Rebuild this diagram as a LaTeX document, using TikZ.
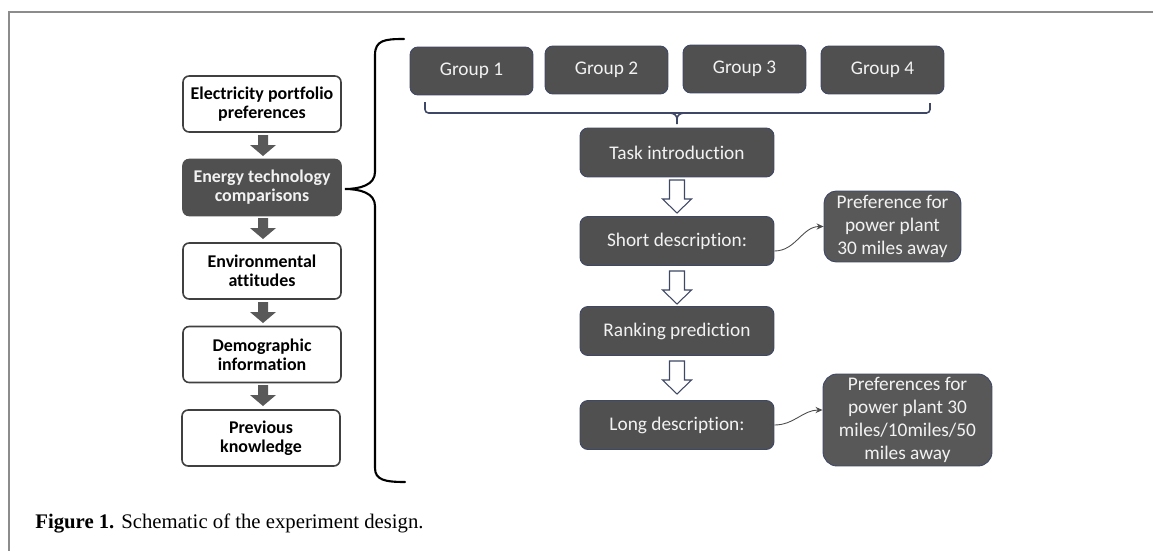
\documentclass[tikz,border=0pt]{standalone}
\usepackage{fontspec}
\setmainfont{Carlito}[Ligatures=NoCommon]
\newfontfamily\capfont{Liberation Serif}
\usetikzlibrary{arrows.meta}

\definecolor{boxgray}{HTML}{505050}
\definecolor{prefgray}{HTML}{585858}
\definecolor{edgeblue}{HTML}{3E4766}
\definecolor{txtlight}{HTML}{F2F2F2}
\definecolor{framegray}{HTML}{8C8C8C}

\tikzset{
  stage/.style={draw=black!75, line width=0.9pt, fill=white, rounded corners=3.5pt,
    minimum width=3.16cm, minimum height=1.12cm, align=center, inner sep=0,
    font=\fontsize{10.2}{10.8}\selectfont\bfseries},
  stagedark/.style={stage, fill=boxgray, draw=boxgray, text=txtlight},
  task/.style={draw=edgeblue, line width=0.5pt, fill=boxgray, rounded corners=4.5pt,
    text=txtlight, align=center, inner sep=0, font=\fontsize{11}{13.2}\selectfont},
  stepdown/.style={fill=black!65},
  hollowdown/.style={draw=edgeblue, fill=white, line width=0.6pt, line join=miter},
  link/.style={draw=black!70, line width=0.5pt, -{Stealth[length=4pt,width=3.5pt]}},
}

\begin{document}
\begin{tikzpicture}[x=0.02cm,y=-0.02cm]
\useasboundingbox (0,0) rectangle (1153,551);

% frame
\draw[framegray, line width=0.85pt] (9,551) -- (9,12) -- (1153,12);

% survey blocks
\node [stage] (portfolio) at (262,104) {Electricity portfolio\\preferences};
\node [stagedark] (techcomp) at (262,187.5) {Energy technology\\comparisons};
\node [stage] (attitudes) at (262,271) {Environmental\\attitudes};
\node [stage] (demo) at (262,354.5) {Demographic\\information};
\node [stage] (knowledge) at (261,438) {Previous\\knowledge};

\coordinate (s1) at (263,135);
\coordinate (s2) at (263,218);
\coordinate (s3) at (263,302);
\coordinate (s4) at (263,385);
\foreach \c in {s1,s2,s3,s4}
  \fill[stepdown] (\c) ++(-5,0) -- ++(10,0) -- ++(0,10) -- ++(8,0) -- ++(-13,11)
    -- ++(-13,-11) -- ++(8,0) -- cycle;

% brace
\draw[line width=1.2pt, line cap=round] (404,39) .. controls (385,39) and (375,40) .. (375,55)
  -- (375,172) .. controls (375,185) and (360,189) .. (345,189)
  .. controls (360,189) and (375,193) .. (375,206)
  -- (375,468) .. controls (375,480) and (385,482) .. (405,482);

% groups
\node [task, minimum width=2.46cm, minimum height=0.96cm] (grp1) at (471.5,71) {Group 1};
\node [task, minimum width=2.46cm, minimum height=0.96cm] (grp2) at (606.5,70) {Group 2};
\node [task, minimum width=2.46cm, minimum height=0.96cm] (grp3) at (744.5,69) {Group 3};
\node [task, minimum width=2.46cm, minimum height=0.96cm] (grp4) at (882.5,70) {Group 4};

\draw[edgeblue, line width=0.9pt, rounded corners=2pt] (425,102) -- (425,113) -- (930,113) -- (930,103);
\draw[edgeblue, line width=0.9pt] (670,113) to[out=0,in=90] (677,119) -- (677,124);
\draw[edgeblue, line width=0.9pt] (684,113) to[out=180,in=90] (677,119);

% task flow
\node [task, minimum width=3.88cm, minimum height=0.98cm] (intro) at (677,152.5) {Task introduction};
\node [task, minimum width=3.88cm, minimum height=0.98cm] (short) at (677,241) {Short description:};
\node [task, minimum width=3.88cm, minimum height=0.98cm] (rank) at (677,331) {Ranking prediction};
\node [task, minimum width=3.88cm, minimum height=0.98cm] (long) at (677,425) {Long description:};

\coordinate (h1) at (677,180);
\coordinate (h2) at (677,271);
\coordinate (h3) at (677,361);
\foreach \c in {h1,h2,h3}
  \draw[hollowdown] (\c) ++(-7.5,0) -- ++(15,0) -- ++(0,19) -- ++(7,0) -- ++(-14.5,14)
    -- ++(-14.5,-14) -- ++(7,0) -- cycle;

\node [task, fill=prefgray, rounded corners=7pt, minimum width=2.74cm, minimum height=1.42cm]
  (shortpref) at (892.5,226.5) {Preference for\\power plant\\30 miles away};
\node [task, fill=prefgray, rounded corners=8pt, minimum width=3.38cm, minimum height=1.84cm]
  (longpref) at (907.5,420) {Preferences for\\power plant 30\\miles/10miles/50\\miles away};

\draw[link] ([yshift=-0.2cm]short.east) to[out=0,in=180] (shortpref.west);
\draw[link] (long.east) to[out=0,in=180] ([yshift=0.2cm]longpref.west);

% caption
\node [anchor=base west, inner sep=0, font=\capfont\fontsize{11.8}{14}\selectfont] (caption)
  at (35,528) {\textbf{Figure 1.} Schematic of the experiment design.};

\end{tikzpicture}
\end{document}
